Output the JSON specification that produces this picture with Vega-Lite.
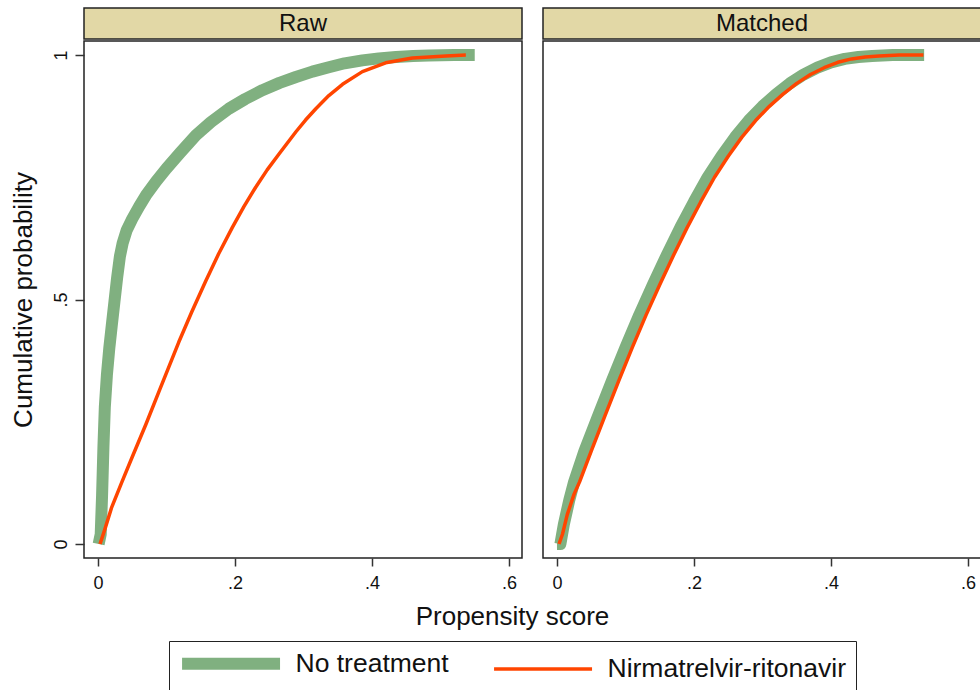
{
  "$schema": "https://vega.github.io/schema/vega-lite/v6.json",
  "background": "white",
  "padding": {"left": 9, "top": 7, "right": 0, "bottom": 0},
  "autosize": {"type": "pad"},
  "config": {
    "font": "Liberation Sans",
    "view": {"stroke": "#222222", "strokeWidth": 1.5},
    "axis": {"grid": false, "domain": false, "tickColor": "#333333", "tickWidth": 1.5, "labelFont": "Liberation Sans", "labelColor": "#111111", "titleFont": "Liberation Sans", "titleColor": "#111111", "titleFontWeight": "normal", "labelFontSize": 18, "titleFontSize": 26},
    "legend": {
      "orient": "none", "legendX": 85, "legendY": 633, "direction": "horizontal", "columns": 2,
      "strokeColor": "#222222", "fillColor": "white", "padding": 9,
      "symbolType": "M-1.5,0H14.5", "symbolSize": 150, "labelOffset": 91, "columnPadding": 38,
      "labelFont": "Liberation Sans", "labelFontSize": 26.5, "labelColor": "#111111", "labelLimit": 500,
      "labelExpr": "datum.value === 'Nirmatrelvir-ritonavir' ? datum.label + ' ' : datum.label"
    }
  },
  "datasets": {
    "panels": [{"panel": "Raw"}, {"panel": "Matched"}],
    "curves": [
      {"panel":"Raw","group":"No treatment","ps":0.001,"cp":0},
      {"panel":"Raw","group":"No treatment","ps":0.004,"cp":0.02},
      {"panel":"Raw","group":"No treatment","ps":0.006,"cp":0.10},
      {"panel":"Raw","group":"No treatment","ps":0.008,"cp":0.20},
      {"panel":"Raw","group":"No treatment","ps":0.010,"cp":0.28},
      {"panel":"Raw","group":"No treatment","ps":0.013,"cp":0.345},
      {"panel":"Raw","group":"No treatment","ps":0.0165,"cp":0.40},
      {"panel":"Raw","group":"No treatment","ps":0.020,"cp":0.445},
      {"panel":"Raw","group":"No treatment","ps":0.024,"cp":0.495},
      {"panel":"Raw","group":"No treatment","ps":0.028,"cp":0.545},
      {"panel":"Raw","group":"No treatment","ps":0.032,"cp":0.588},
      {"panel":"Raw","group":"No treatment","ps":0.036,"cp":0.615},
      {"panel":"Raw","group":"No treatment","ps":0.042,"cp":0.642},
      {"panel":"Raw","group":"No treatment","ps":0.050,"cp":0.665},
      {"panel":"Raw","group":"No treatment","ps":0.060,"cp":0.69},
      {"panel":"Raw","group":"No treatment","ps":0.070,"cp":0.713},
      {"panel":"Raw","group":"No treatment","ps":0.085,"cp":0.742},
      {"panel":"Raw","group":"No treatment","ps":0.100,"cp":0.768},
      {"panel":"Raw","group":"No treatment","ps":0.120,"cp":0.80},
      {"panel":"Raw","group":"No treatment","ps":0.143,"cp":0.836},
      {"panel":"Raw","group":"No treatment","ps":0.165,"cp":0.863},
      {"panel":"Raw","group":"No treatment","ps":0.191,"cp":0.890},
      {"panel":"Raw","group":"No treatment","ps":0.215,"cp":0.91},
      {"panel":"Raw","group":"No treatment","ps":0.240,"cp":0.928},
      {"panel":"Raw","group":"No treatment","ps":0.265,"cp":0.943},
      {"panel":"Raw","group":"No treatment","ps":0.289,"cp":0.955},
      {"panel":"Raw","group":"No treatment","ps":0.313,"cp":0.966},
      {"panel":"Raw","group":"No treatment","ps":0.337,"cp":0.975},
      {"panel":"Raw","group":"No treatment","ps":0.360,"cp":0.983},
      {"panel":"Raw","group":"No treatment","ps":0.386,"cp":0.989},
      {"panel":"Raw","group":"No treatment","ps":0.410,"cp":0.993},
      {"panel":"Raw","group":"No treatment","ps":0.435,"cp":0.996},
      {"panel":"Raw","group":"No treatment","ps":0.460,"cp":0.998},
      {"panel":"Raw","group":"No treatment","ps":0.483,"cp":0.999},
      {"panel":"Raw","group":"No treatment","ps":0.520,"cp":1.0},
      {"panel":"Raw","group":"No treatment","ps":0.550,"cp":1.0},
      {"panel":"Raw","group":"Nirmatrelvir-ritonavir","ps":0.003,"cp":0},
      {"panel":"Raw","group":"Nirmatrelvir-ritonavir","ps":0.010,"cp":0.03},
      {"panel":"Raw","group":"Nirmatrelvir-ritonavir","ps":0.020,"cp":0.075},
      {"panel":"Raw","group":"Nirmatrelvir-ritonavir","ps":0.035,"cp":0.127},
      {"panel":"Raw","group":"Nirmatrelvir-ritonavir","ps":0.050,"cp":0.178},
      {"panel":"Raw","group":"Nirmatrelvir-ritonavir","ps":0.070,"cp":0.245},
      {"panel":"Raw","group":"Nirmatrelvir-ritonavir","ps":0.090,"cp":0.315},
      {"panel":"Raw","group":"Nirmatrelvir-ritonavir","ps":0.118,"cp":0.413},
      {"panel":"Raw","group":"Nirmatrelvir-ritonavir","ps":0.137,"cp":0.475},
      {"panel":"Raw","group":"Nirmatrelvir-ritonavir","ps":0.157,"cp":0.537},
      {"panel":"Raw","group":"Nirmatrelvir-ritonavir","ps":0.176,"cp":0.593},
      {"panel":"Raw","group":"Nirmatrelvir-ritonavir","ps":0.196,"cp":0.647},
      {"panel":"Raw","group":"Nirmatrelvir-ritonavir","ps":0.213,"cp":0.69},
      {"panel":"Raw","group":"Nirmatrelvir-ritonavir","ps":0.230,"cp":0.729},
      {"panel":"Raw","group":"Nirmatrelvir-ritonavir","ps":0.247,"cp":0.765},
      {"panel":"Raw","group":"Nirmatrelvir-ritonavir","ps":0.264,"cp":0.797},
      {"panel":"Raw","group":"Nirmatrelvir-ritonavir","ps":0.289,"cp":0.843},
      {"panel":"Raw","group":"Nirmatrelvir-ritonavir","ps":0.303,"cp":0.867},
      {"panel":"Raw","group":"Nirmatrelvir-ritonavir","ps":0.318,"cp":0.89},
      {"panel":"Raw","group":"Nirmatrelvir-ritonavir","ps":0.337,"cp":0.917},
      {"panel":"Raw","group":"Nirmatrelvir-ritonavir","ps":0.357,"cp":0.94},
      {"panel":"Raw","group":"Nirmatrelvir-ritonavir","ps":0.386,"cp":0.966},
      {"panel":"Raw","group":"Nirmatrelvir-ritonavir","ps":0.420,"cp":0.984},
      {"panel":"Raw","group":"Nirmatrelvir-ritonavir","ps":0.459,"cp":0.994},
      {"panel":"Raw","group":"Nirmatrelvir-ritonavir","ps":0.508,"cp":0.998},
      {"panel":"Raw","group":"Nirmatrelvir-ritonavir","ps":0.537,"cp":1.0},
      {"panel":"Matched","group":"No treatment","ps":0.000,"cp":0},
      {"panel":"Matched","group":"No treatment","ps":0.005,"cp":0},
      {"panel":"Matched","group":"No treatment","ps":0.010,"cp":0.04},
      {"panel":"Matched","group":"No treatment","ps":0.018,"cp":0.09},
      {"panel":"Matched","group":"No treatment","ps":0.025,"cp":0.127},
      {"panel":"Matched","group":"No treatment","ps":0.040,"cp":0.19},
      {"panel":"Matched","group":"No treatment","ps":0.060,"cp":0.262},
      {"panel":"Matched","group":"No treatment","ps":0.080,"cp":0.333},
      {"panel":"Matched","group":"No treatment","ps":0.100,"cp":0.402},
      {"panel":"Matched","group":"No treatment","ps":0.120,"cp":0.468},
      {"panel":"Matched","group":"No treatment","ps":0.140,"cp":0.53},
      {"panel":"Matched","group":"No treatment","ps":0.160,"cp":0.59},
      {"panel":"Matched","group":"No treatment","ps":0.180,"cp":0.647},
      {"panel":"Matched","group":"No treatment","ps":0.200,"cp":0.70},
      {"panel":"Matched","group":"No treatment","ps":0.220,"cp":0.75},
      {"panel":"Matched","group":"No treatment","ps":0.240,"cp":0.793},
      {"panel":"Matched","group":"No treatment","ps":0.260,"cp":0.832},
      {"panel":"Matched","group":"No treatment","ps":0.280,"cp":0.866},
      {"panel":"Matched","group":"No treatment","ps":0.300,"cp":0.895},
      {"panel":"Matched","group":"No treatment","ps":0.320,"cp":0.92},
      {"panel":"Matched","group":"No treatment","ps":0.340,"cp":0.942},
      {"panel":"Matched","group":"No treatment","ps":0.360,"cp":0.96},
      {"panel":"Matched","group":"No treatment","ps":0.380,"cp":0.974},
      {"panel":"Matched","group":"No treatment","ps":0.400,"cp":0.985},
      {"panel":"Matched","group":"No treatment","ps":0.420,"cp":0.992},
      {"panel":"Matched","group":"No treatment","ps":0.440,"cp":0.996},
      {"panel":"Matched","group":"No treatment","ps":0.460,"cp":0.998},
      {"panel":"Matched","group":"No treatment","ps":0.490,"cp":1.0},
      {"panel":"Matched","group":"No treatment","ps":0.536,"cp":1.0},
      {"panel":"Matched","group":"Nirmatrelvir-ritonavir","ps":0.003,"cp":0},
      {"panel":"Matched","group":"Nirmatrelvir-ritonavir","ps":0.008,"cp":0.02},
      {"panel":"Matched","group":"Nirmatrelvir-ritonavir","ps":0.015,"cp":0.06},
      {"panel":"Matched","group":"Nirmatrelvir-ritonavir","ps":0.025,"cp":0.102},
      {"panel":"Matched","group":"Nirmatrelvir-ritonavir","ps":0.033,"cp":0.127},
      {"panel":"Matched","group":"Nirmatrelvir-ritonavir","ps":0.050,"cp":0.19},
      {"panel":"Matched","group":"Nirmatrelvir-ritonavir","ps":0.070,"cp":0.262},
      {"panel":"Matched","group":"Nirmatrelvir-ritonavir","ps":0.090,"cp":0.333},
      {"panel":"Matched","group":"Nirmatrelvir-ritonavir","ps":0.110,"cp":0.402},
      {"panel":"Matched","group":"Nirmatrelvir-ritonavir","ps":0.130,"cp":0.468},
      {"panel":"Matched","group":"Nirmatrelvir-ritonavir","ps":0.150,"cp":0.53},
      {"panel":"Matched","group":"Nirmatrelvir-ritonavir","ps":0.170,"cp":0.59},
      {"panel":"Matched","group":"Nirmatrelvir-ritonavir","ps":0.190,"cp":0.647},
      {"panel":"Matched","group":"Nirmatrelvir-ritonavir","ps":0.210,"cp":0.70},
      {"panel":"Matched","group":"Nirmatrelvir-ritonavir","ps":0.230,"cp":0.75},
      {"panel":"Matched","group":"Nirmatrelvir-ritonavir","ps":0.250,"cp":0.793},
      {"panel":"Matched","group":"Nirmatrelvir-ritonavir","ps":0.270,"cp":0.832},
      {"panel":"Matched","group":"Nirmatrelvir-ritonavir","ps":0.290,"cp":0.866},
      {"panel":"Matched","group":"Nirmatrelvir-ritonavir","ps":0.310,"cp":0.895},
      {"panel":"Matched","group":"Nirmatrelvir-ritonavir","ps":0.330,"cp":0.92},
      {"panel":"Matched","group":"Nirmatrelvir-ritonavir","ps":0.350,"cp":0.942},
      {"panel":"Matched","group":"Nirmatrelvir-ritonavir","ps":0.370,"cp":0.96},
      {"panel":"Matched","group":"Nirmatrelvir-ritonavir","ps":0.390,"cp":0.974},
      {"panel":"Matched","group":"Nirmatrelvir-ritonavir","ps":0.410,"cp":0.985},
      {"panel":"Matched","group":"Nirmatrelvir-ritonavir","ps":0.430,"cp":0.992},
      {"panel":"Matched","group":"Nirmatrelvir-ritonavir","ps":0.450,"cp":0.996},
      {"panel":"Matched","group":"Nirmatrelvir-ritonavir","ps":0.470,"cp":0.998},
      {"panel":"Matched","group":"Nirmatrelvir-ritonavir","ps":0.500,"cp":1.0},
      {"panel":"Matched","group":"Nirmatrelvir-ritonavir","ps":0.535,"cp":1.0}
    ]
  },
  "spacing": -68,
  "columns": 2,
  "align": "none",
  "concat": [
    {
      "spacing": 0,
      "vconcat": [
        {
          "width": 438, "height": 31,
          "data": {"name": "panels"},
          "transform": [{"filter": "datum.panel === 'Raw'"}],
          "view": {"fill": "#e2d8a6", "stroke": "#222222", "strokeWidth": 1.5},
          "mark": {"type": "text", "fontSize": 24, "font": "Liberation Sans", "color": "#111111", "align": "center", "baseline": "middle"},
          "encoding": {"text": {"field": "panel", "type": "nominal"}}
        },
        {
          "width": 438, "height": 517,
          "data": {"name": "curves"},
          "transform": [{"filter": "datum.panel === 'Raw'"}],
          "encoding": {
            "x": {"field": "ps", "type": "quantitative",
                  "scale": {"domain": [-0.0204, 0.619], "nice": false, "zero": false},
                  "axis": {"title": "Propensity score", "values": [0, 0.2, 0.4, 0.6], "tickSize": 8, "labelPadding": 8, "labelFontSize": 18, "titlePadding": 11, "titleX": 428, "titleAlign": "center",
                           "labelExpr": "datum.value == 0 ? '0' : replace(format(datum.value, '~g'), '0.', '.')"}},
            "y": {"field": "cp", "type": "quantitative",
                  "scale": {"domain": [-0.0286, 1.0286], "nice": false, "zero": false},
                  "axis": {"title": "Cumulative probability", "values": [0, 0.5, 1], "tickSize": 9, "labelPadding": 5, "labelFontSize": 18, "titlePadding": 16, "labelAngle": -90, "labelAlign": "center", "labelBaseline": "bottom",
                           "labelExpr": "datum.value == 0 ? '0' : replace(format(datum.value, '~g'), '0.', '.')"}},
            "color": {"field": "group", "type": "nominal", "title": null,
                      "scale": {"domain": ["No treatment", "Nirmatrelvir-ritonavir"], "range": ["#80b080", "#ff4500"]}},
            "strokeWidth": {"field": "group", "type": "nominal", "title": null,
                      "scale": {"type": "point", "domain": ["No treatment", "Nirmatrelvir-ritonavir"], "range": [12, 3.5]}}
          },
          "layer": [
            {"transform": [{"filter": "datum.group === 'No treatment'"}], "mark": {"type": "line", "strokeCap": "butt", "strokeJoin": "round"}},
            {"transform": [{"filter": "datum.group === 'Nirmatrelvir-ritonavir'"}], "mark": {"type": "line", "strokeJoin": "round"}}
          ]
        }
      ]
    },
    {
      "spacing": 0,
      "vconcat": [
        {
          "width": 438, "height": 31,
          "data": {"name": "panels"},
          "transform": [{"filter": "datum.panel === 'Matched'"}],
          "view": {"fill": "#e2d8a6", "stroke": "#222222", "strokeWidth": 1.5},
          "mark": {"type": "text", "fontSize": 24, "font": "Liberation Sans", "color": "#111111", "align": "center", "baseline": "middle"},
          "encoding": {"text": {"field": "panel", "type": "nominal"}}
        },
        {
          "width": 438, "height": 517,
          "data": {"name": "curves"},
          "transform": [{"filter": "datum.panel === 'Matched'"}],
          "encoding": {
            "x": {"field": "ps", "type": "quantitative",
                  "scale": {"domain": [-0.0204, 0.619], "nice": false, "zero": false},
                  "axis": {"title": null, "values": [0, 0.2, 0.4, 0.6], "tickSize": 8, "labelPadding": 8, "labelFontSize": 18,
                           "labelExpr": "datum.value == 0 ? '0' : replace(format(datum.value, '~g'), '0.', '.')"}},
            "y": {"field": "cp", "type": "quantitative",
                  "scale": {"domain": [-0.0286, 1.0286], "nice": false, "zero": false},
                  "axis": null},
            "color": {"field": "group", "type": "nominal", "title": null,
                      "scale": {"domain": ["No treatment", "Nirmatrelvir-ritonavir"], "range": ["#80b080", "#ff4500"]}},
            "strokeWidth": {"field": "group", "type": "nominal", "title": null,
                      "scale": {"type": "point", "domain": ["No treatment", "Nirmatrelvir-ritonavir"], "range": [12, 3.5]}}
          },
          "layer": [
            {"transform": [{"filter": "datum.group === 'No treatment'"}], "mark": {"type": "line", "strokeCap": "butt", "strokeJoin": "round"}},
            {"transform": [{"filter": "datum.group === 'Nirmatrelvir-ritonavir'"}], "mark": {"type": "line", "strokeJoin": "round"}}
          ]
        }
      ]
    }
  ]
}
